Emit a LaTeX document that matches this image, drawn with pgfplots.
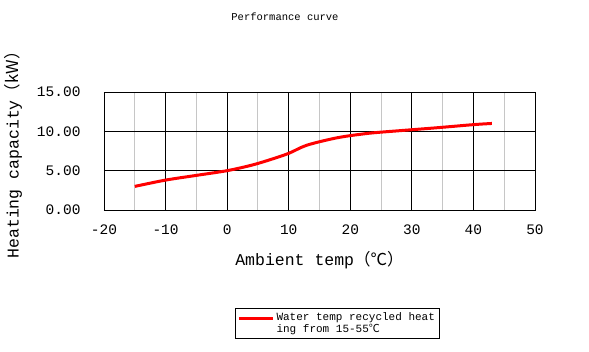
\documentclass[border=0pt]{standalone}
\usepackage{pgfplots}
\pgfplotsset{compat=1.18}
\usepackage{fontspec}
\setmainfont{Liberation Mono}
\newfontfamily\cjk{Noto Sans CJK SC}
\begin{document}
\begin{tikzpicture}
\useasboundingbox[fill=white] (0,0) rectangle (589pt,352pt);
\node[font=\fontsize{10.5}{12}\selectfont] at (285pt,335pt) {Performance curve};
\begin{axis}[
  at={(104pt,142pt)}, anchor=south west,
  scale only axis, width=431pt, height=118pt,
  xmin=-20, xmax=50, ymin=0, ymax=15,
  xtick={-20,-10,...,50}, ytick={0,5,10,15},
  minor xtick={-15,-5,...,45},
  grid=both,
  major grid style={black, line width=0.9pt},
  minor grid style={gray!45, line width=0.9pt},
  axis line style={black, line width=0.9pt},
  major tick length=0pt, minor tick length=0pt,
  /pgf/number format/assume math mode=true,
  yticklabel style={/pgf/number format/fixed, /pgf/number format/fixed zerofill, /pgf/number format/precision=2, xshift=-20pt, font=\fontsize{14.5}{15}\selectfont},
  xticklabel style={yshift=-11pt, font=\fontsize{14.5}{15}\selectfont},
  scaled y ticks=false,
  xlabel={Ambient temp{\cjk （℃）}},
  ylabel={Heating capacity{\cjk （kW）}},
  xlabel style={font=\fontsize{16.5}{17}\selectfont, yshift=-10pt},
  ylabel style={font=\fontsize{16.5}{17}\selectfont, yshift=8pt},
  legend style={at={(0.304,-0.83)}, anchor=north west, draw=black, line width=0.6pt,
    font=\fontsize{11}{12.5}\selectfont, cells={align=left}, inner sep=2pt},
  legend image code/.code={\draw[red, line width=3.2pt] (-2pt,5pt) -- (32pt,5pt);},
]
\addplot[red, line width=3pt, smooth] coordinates {
(-15,3.0) (-10,3.8) (-5,4.4) (0,5.0) (4,5.7) (7,6.4) (10,7.2) (13,8.25) (18,9.2) (23,9.75) (28,10.08) (34,10.45) (40,10.85) (43,11.0)
};
\addlegendentry{Water temp recycled heat\\ing from 15-55{\cjk ℃}}
\end{axis}
\end{tikzpicture}
\end{document}
